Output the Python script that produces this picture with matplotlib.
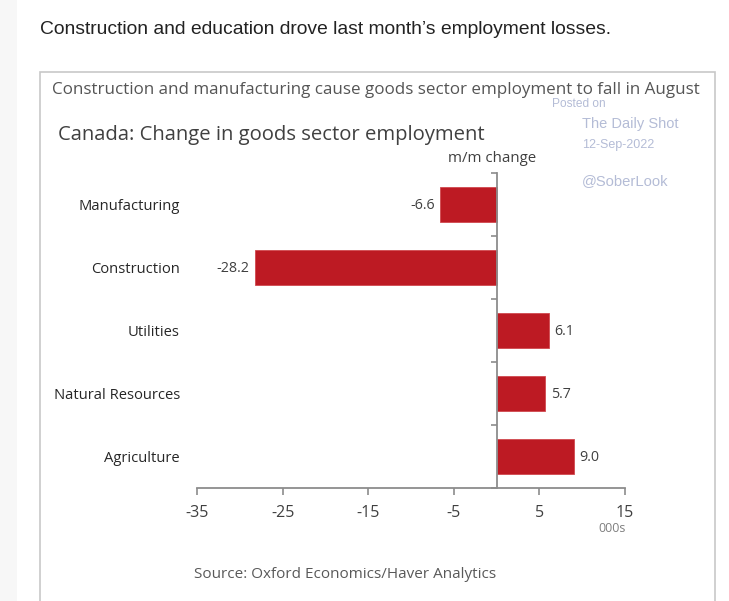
import matplotlib.pyplot as plt
from matplotlib.patches import Rectangle

sectors = ['Manufacturing', 'Construction', 'Utilities', 'Natural Resources', 'Agriculture']
change = [-6.6, -28.2, 6.1, 5.7, 9.0]
xticks = [-35, -25, -15, -5, 5, 15]

W, H = 729, 601
fig = plt.figure(figsize=(W / 100, H / 100), dpi=100)

def fx(px):
    return px / W

def fy(py):
    return 1 - py / H

# page background strip and chart frame
fig.add_artist(Rectangle((0, 0), fx(17), 1, transform=fig.transFigure,
                         facecolor='#f7f7f7', edgecolor='none', zorder=0))
fig.add_artist(Rectangle((fx(40), -0.01), fx(675), fy(72) + 0.01, transform=fig.transFigure,
                         facecolor='none', edgecolor='#c8c8c8', lw=1.2, zorder=1))

fig.text(fx(40), fy(29), 'Construction and education drove last month\u2019s employment losses.',
         family='Liberation Sans', fontsize=13.9, color='#222222', va='center')

fig.text(fx(52), fy(90), 'Construction and manufacturing cause goods sector employment to fall in August',
         family='Open Sans', fontsize=12.25, color='#555555', va='center')
fig.text(fx(58), fy(135), 'Canada: Change in goods sector employment',
         family='Open Sans', fontsize=14.6, color='#404040', va='center')
fig.text(fx(492), fy(159), 'm/m change', family='Open Sans', fontsize=10.8,
         color='#404040', va='center', ha='center')

wm = '#b4bcd6'
fig.text(fx(552), fy(104), 'Posted on', family='Liberation Sans', fontsize=8.6, color=wm, va='center')
fig.text(fx(582), fy(124), 'The Daily Shot', family='Liberation Sans', fontsize=10.5, color=wm, va='center')
fig.text(fx(582), fy(145), '12-Sep-2022', family='Liberation Sans', fontsize=9, color=wm, va='center')
fig.text(fx(582), fy(181), '@SoberLook', family='Liberation Sans', fontsize=10.6, color=wm, va='center')

fig.text(fx(194), fy(574), 'Source: Oxford Economics/Haver Analytics',
         family='Open Sans', fontsize=11, color='#595959', va='center')

ax = fig.add_axes([fx(197), fy(488), fx(625) - fx(197), fy(173) - fy(488)])
ypos = list(range(len(sectors)))
ax.barh(ypos, change, height=0.56, color='#bd1a23', edgecolor='#d0494f', lw=0.6, zorder=2)

ax.set_xlim(-35, 15)
ax.set_ylim(len(sectors) - 0.5, -0.5)

for s in ['top', 'right']:
    ax.spines[s].set_visible(False)
ax.spines['left'].set_position(('data', 0))
for s in ['left', 'bottom']:
    ax.spines[s].set_color('#8c8c8c')
    ax.spines[s].set_linewidth(1.3)

ax.set_xticks(xticks)
ax.set_xticklabels([str(t) for t in xticks], family='Open Sans', fontsize=11.5, color='#404040')
ax.tick_params(axis='x', direction='out', length=5, width=1.2, color='#8c8c8c', pad=7)

ax.set_yticks([y - 0.5 for y in ypos] + [len(sectors) - 0.5])
ax.set_yticklabels([])
ax.tick_params(axis='y', direction='out', length=4, width=1.2, color='#8c8c8c')

for y, name in zip(ypos, sectors):
    ax.text(-0.04, y + 0.03, name, transform=ax.get_yaxis_transform(), ha='right', va='center',
            family='Open Sans', fontsize=10.6, color='#262626')

for y, v in zip(ypos, change):
    ax.annotate(f'{v:.1f}', (v, y), xytext=(-4 if v < 0 else 4, -1), textcoords='offset points',
                ha='right' if v < 0 else 'left', va='center',
                family='Open Sans', fontsize=10.3, color='#404040')

fig.text(fx(612), fy(529), '000s', family='Open Sans', fontsize=9, color='#7f7f7f',
         va='center', ha='center')

fig.savefig('out.png', dpi=100)
